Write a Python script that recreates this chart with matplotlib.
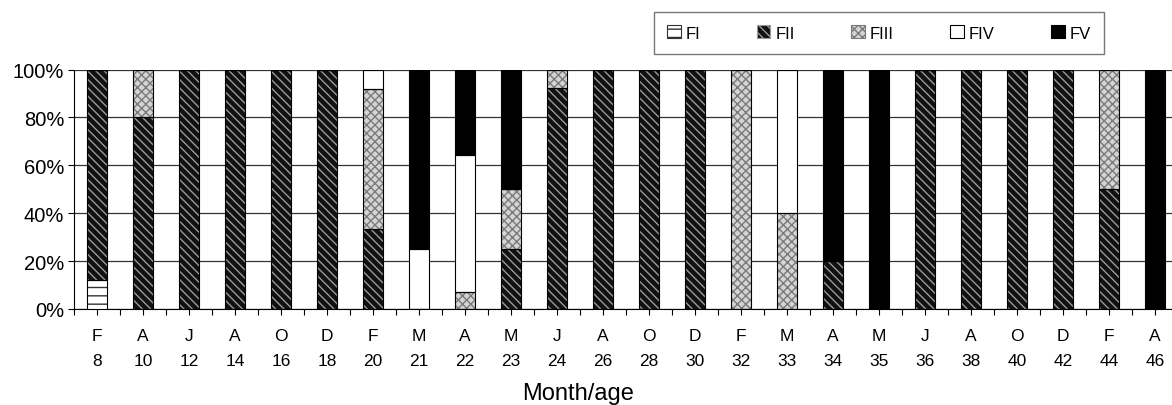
import numpy as np
import matplotlib
matplotlib.use('Agg')
import matplotlib.pyplot as plt
from matplotlib.patches import Patch
from matplotlib.ticker import PercentFormatter, FixedLocator

plt.rcParams['font.family'] = ['Liberation Sans', 'DejaVu Sans']
plt.rcParams['hatch.linewidth'] = 1.0

# Datos (porcentajes por fase)
meses = ['F', 'A', 'J', 'A', 'O', 'D', 'F', 'M', 'A', 'M', 'J', 'A',
         'O', 'D', 'F', 'M', 'A', 'M', 'J', 'A', 'O', 'D', 'F', 'A']
edades = ['8', '10', '12', '14', '16', '18', '20', '21', '22', '23', '24', '26',
          '28', '30', '32', '33', '34', '35', '36', '38', '40', '42', '44', '46']

fi   = [12, 0, 0, 0, 0, 0, 0, 0, 0, 0, 0, 0, 0, 0, 0, 0, 0, 0, 0, 0, 0, 0, 0, 0]
fii  = [88, 80, 100, 100, 100, 100, 33.3, 0, 0, 25, 92.3, 100,
        100, 100, 0, 0, 20, 0, 100, 100, 100, 100, 50, 0]
fiii = [0, 20, 0, 0, 0, 0, 58.4, 0, 7.1, 25, 7.7, 0,
        0, 0, 100, 40, 0, 0, 0, 0, 0, 0, 50, 0]
fiv  = [0, 0, 0, 0, 0, 0, 8.3, 25, 57.2, 0, 0, 0,
        0, 0, 0, 60, 0, 0, 0, 0, 0, 0, 0, 0]
fv   = [0, 0, 0, 0, 0, 0, 0, 75, 35.7, 50, 0, 0,
        0, 0, 0, 0, 80, 100, 0, 0, 0, 0, 0, 100]

series = [('FI', fi), ('FII', fii), ('FIII', fiii), ('FIV', fiv), ('FV', fv)]

# estilos: (relleno, color de trama, trama)
estilos = {
    'FI':   ('white', '#333333', '--'),
    'FII':  ('#111111', '#9a9a9a', '\\\\\\\\'),
    'FIII': ('#d4d4d4', '#7a7a7a', 'xxxx'),
    'FIV':  ('white', 'white', None),
    'FV':   ('black', 'black', None),
}

fig = plt.figure(figsize=(11.72, 4.06), dpi=100)
ax = fig.add_axes([74 / 1172, 96 / 406, 1104 / 1172, 239.5 / 406])

x = np.arange(len(meses))
ancho = 0.44
base = np.zeros(len(meses))
for nombre, vals in series:
    vals = np.array(vals, dtype=float) / 100
    fc, hc, h = estilos[nombre]
    ax.bar(x, vals, ancho, bottom=base, color=fc, edgecolor=hc, hatch=h,
           linewidth=0, zorder=3)
    ax.bar(x, vals, ancho, bottom=base, fill=False, edgecolor='black',
           linewidth=0.8, zorder=4)
    base += vals

ax.set_xlim(-0.5, len(meses) - 0.5)
ax.set_ylim(0, 1)
ax.yaxis.set_major_locator(FixedLocator([0, 0.2, 0.4, 0.6, 0.8, 1.0]))
ax.yaxis.set_major_formatter(PercentFormatter(1.0, decimals=0))
ax.grid(axis='y', color='#333333', linewidth=0.9, zorder=0)
ax.set_axisbelow(True)

ax.set_xticks(x)
ax.set_xticklabels([f'{m}\n{e}' for m, e in zip(meses, edades)], fontsize=12.5,
                   linespacing=1.8)
ax.set_xticks(np.arange(-0.5, len(meses)), minor=True)
ax.tick_params(axis='x', which='both', direction='out', length=4, width=0.8, pad=10)
ax.tick_params(axis='y', direction='out', length=4, width=0.8, labelsize=14.5, pad=3)

for lado in ['top', 'right']:
    ax.spines[lado].set_visible(False)
ax.spines['left'].set_color('black')
ax.spines['bottom'].set_color('black')

ax.set_xlabel('Month/age', fontsize=17, va='center')
ax.xaxis.set_label_coords((578 - 74) / 1104, -(394 - 310) / 239.5)

# Leyenda
handles = []
for nombre, _ in series:
    fc, hc, h = estilos[nombre]
    handles.append(Patch(facecolor=fc, edgecolor='black' if h is None else hc,
                         hatch=h, linewidth=0.8, label=nombre))
leg = fig.legend(handles=handles, ncol=5, loc='center',
                 bbox_to_anchor=((652 + 1106) / 2 / 1172, 1 - 34 / 406),
                 frameon=True, fancybox=False, fontsize=12,
                 handlelength=0.8, handleheight=0.8, handletextpad=0.3,
                 columnspacing=3.4, borderpad=0.8)
leg.get_frame().set_edgecolor('#555555')
leg.get_frame().set_linewidth(1.0)

fig.savefig('out.png', dpi=100)
